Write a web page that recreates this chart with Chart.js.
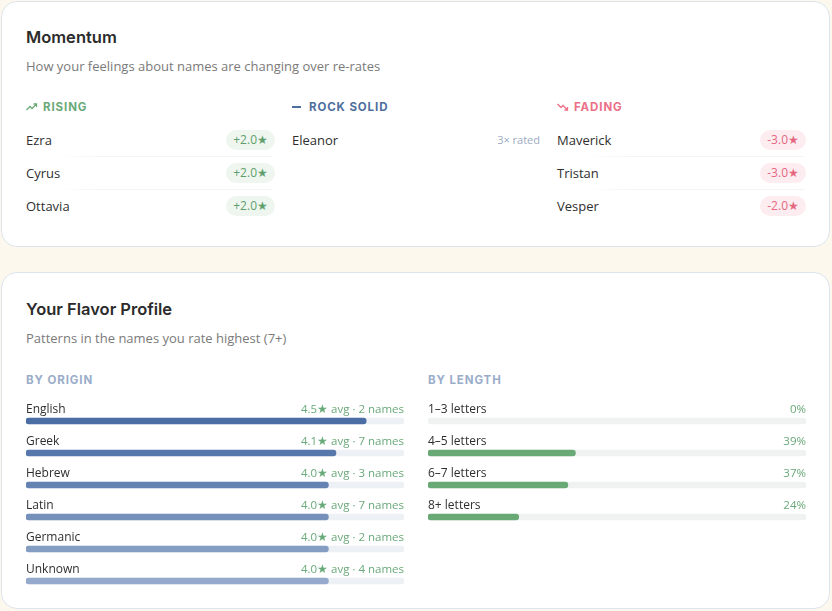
<!DOCTYPE html>
<html><head><meta charset="utf-8">
<script src="https://cdn.jsdelivr.net/npm/chart.js@4.4.1/dist/chart.umd.min.js"></script>
<style>
html,body{margin:0;padding:0;}
body{width:832px;height:611px;background:#fdf8ed;position:relative;overflow:hidden;font-family:"Open Sans",sans-serif;color:#2f2f2f;}
.card{position:absolute;left:1px;width:829px;background:#fff;border:1.5px solid #dce4ee;border-radius:16px;box-sizing:border-box;}
.t{position:absolute;white-space:nowrap;height:20px;line-height:20px;}
.title{font-family:Inter,sans-serif;font-weight:600;font-size:16.5px;color:#2b2b2b;letter-spacing:0px;}
.sub{font-size:13px;color:#7a7a7a;}
.hdr{font-family:Inter,sans-serif;font-weight:700;font-size:11.5px;letter-spacing:0.9px;}
.name{font-size:13px;color:#2f2f2f;}
.badge{position:absolute;height:20px;line-height:20px;border-radius:10px;font-size:12px;padding:0 7px;box-sizing:border-box;text-align:center;}
.div{position:absolute;height:1px;background:linear-gradient(90deg,rgba(245,245,245,0),#f4f4f4 20%,#f4f4f4);}
canvas{position:absolute;}
</style></head>
<body>
<div class="card" style="top:1px;height:246px;"></div>
<div class="card" style="top:272px;height:337px;"></div>

<div class="t title" style="left:26px;top:27px;">Momentum</div>
<div class="t sub" style="left:26px;top:56px;">How your feelings about names are changing over re-rates</div>

<div class="t hdr" style="left:26px;top:97px;color:#6aaa78;"><svg width="12" height="8" viewBox="0 0 12 8" style="margin-right:5px;vertical-align:0px"><polyline points="0.5,7 4,3.5 6,5.5 10.5,1" fill="none" stroke="#6aaa78" stroke-width="1.3"/><polyline points="7.5,1 10.5,1 10.5,4" fill="none" stroke="#6aaa78" stroke-width="1.3"/></svg>RISING</div>
<div class="t hdr" style="left:292px;top:97px;color:#4e6e9d;"><span style="display:inline-block;width:9px;height:1.6px;background:#4e6e9d;vertical-align:3px;margin-right:8px;"></span>ROCK SOLID</div>
<div class="t hdr" style="left:557px;top:97px;color:#ec7088;"><svg width="12" height="8" viewBox="0 0 12 8" style="margin-right:5px;vertical-align:0px"><polyline points="0.5,1 4,4.5 6,2.5 10.5,7" fill="none" stroke="#ec7088" stroke-width="1.3"/><polyline points="7.5,7 10.5,7 10.5,4" fill="none" stroke="#ec7088" stroke-width="1.3"/></svg>FADING</div>

<div id="mom"></div>

<div class="t title" style="left:26px;top:299px;">Your Flavor Profile</div>
<div class="t sub" style="left:26px;top:328px;">Patterns in the names you rate highest (7+)</div>
<div class="t hdr" style="left:26px;top:370px;color:#9aadc9;">BY ORIGIN</div>
<div class="t hdr" style="left:428px;top:370px;color:#9aadc9;">BY LENGTH</div>

<canvas id="origin" width="378" height="202" style="left:26px;top:395px;"></canvas>
<canvas id="length" width="378" height="138" style="left:428px;top:395px;"></canvas>

<script>
// ---- Momentum data ----
const risingNames = ['Ezra', 'Cyrus', 'Ottavia'];
const risingDelta = [2.0, 2.0, 2.0];
const solidNames = ['Eleanor'];
const solidRated = [3];
const fadingNames = ['Maverick', 'Tristan', 'Vesper'];
const fadingDelta = [-3.0, -3.0, -2.0];

// ---- Flavor profile data ----
const originLabels = ['English', 'Greek', 'Hebrew', 'Latin', 'Germanic', 'Unknown'];
const originAvg = [4.5, 4.1, 4.0, 4.0, 4.0, 4.0];
const originCount = [2, 7, 3, 7, 2, 4];
const originMax = 5;
const lengthLabels = ['1–3 letters', '4–5 letters', '6–7 letters', '8+ letters'];
const lengthPct = [0, 39, 37, 24];
const lengthMax = 100;

// ---- build momentum rows ----
const mom = document.getElementById('mom');
const rowY = [140, 173, 206];
function addRow(x, right, y, name, i, n) {
  const d = document.createElement('div');
  d.className = 't name'; d.style.left = x + 'px'; d.style.top = (y - 10) + 'px';
  d.textContent = name; mom.appendChild(d);
  if (i < n - 1) {
    const l = document.createElement('div');
    l.className = 'div'; l.style.left = (x + 30) + 'px'; l.style.width = (right - x - 32) + 'px';
    l.style.top = (y + 16) + 'px'; mom.appendChild(l);
  }
}
function addBadge(right, y, txt, fg, bg) {
  const b = document.createElement('div');
  b.className = 'badge'; b.style.right = (832 - right) + 'px'; b.style.top = (y - 10) + 'px';
  b.style.color = fg; b.style.background = bg; b.textContent = txt; mom.appendChild(b);
}
risingNames.forEach((n, i) => {
  addRow(26, 274, rowY[i], n, i, risingNames.length);
  addBadge(275, rowY[i], '+' + risingDelta[i].toFixed(1) + '★', '#5f9f6d', '#eef6ef');
});
solidNames.forEach((n, i) => {
  addRow(292, 540, rowY[i], n, i, solidNames.length);
  const r = document.createElement('div');
  r.className = 't'; r.style.right = (832 - 540) + 'px'; r.style.top = (rowY[i] - 10) + 'px';
  r.style.fontSize = '11px'; r.style.color = '#9dabc4'; r.textContent = solidRated[i] + '× rated';
  mom.appendChild(r);
});
fadingNames.forEach((n, i) => {
  addRow(557, 806, rowY[i], n, i, fadingNames.length);
  addBadge(806, rowY[i], fadingDelta[i].toFixed(1) + '★', '#e5677f', '#fdedf0');
});

// ---- bar charts ----
const rowLabels = {
  id: 'rowLabels',
  afterDatasetsDraw(chart, args, opts) {
    const ctx = chart.ctx, ys = chart.scales.y, ca = chart.chartArea;
    ctx.save();
    ctx.textBaseline = 'middle';
    chart.data.labels.forEach((lab, i) => {
      const y = ys.getPixelForValue(i) - 11;
      ctx.font = '12px "Open Sans", sans-serif';
      ctx.fillStyle = '#2f2f2f'; ctx.textAlign = 'left';
      ctx.fillText(lab, ca.left, y);
      ctx.font = '11.5px "Open Sans", sans-serif';
      ctx.fillStyle = '#6aa97a'; ctx.textAlign = 'right';
      ctx.fillText(opts.right[i], ca.right, y);
    });
    ctx.restore();
  }
};

function barChart(id, labels, values, max, colors, track, rightTexts) {
  new Chart(document.getElementById(id), {
    type: 'bar',
    data: {
      labels: labels,
      datasets: [
        { data: values,
          backgroundColor: c => (c.raw === 0 ? 'rgba(0,0,0,0)' : colors[c.dataIndex]),
          barThickness: 6, borderRadius: 3, borderSkipped: false, grouped: false },
        { data: labels.map(() => max), backgroundColor: track, barThickness: 6, borderRadius: 3, borderSkipped: false, grouped: false }
      ]
    },
    options: {
      indexAxis: 'y', responsive: false, animation: false, devicePixelRatio: 1,
      layout: { padding: { top: 10, left: 0, right: 0, bottom: 0 } },
      scales: {
        x: { display: false, min: 0, max: max },
        y: { display: false }
      },
      plugins: { legend: { display: false }, tooltip: { enabled: false }, rowLabels: { right: rightTexts } }
    },
    plugins: [rowLabels]
  });
}

barChart('origin', originLabels, originAvg, originMax,
  ['#4a6ea4', '#5677ab', '#6483b3', '#7490bb', '#849dc3', '#94a9cb'], '#edf0f5',
  originAvg.map((v, i) => v.toFixed(1) + '★ avg · ' + originCount[i] + ' names'));
barChart('length', lengthLabels, lengthPct, lengthMax,
  lengthLabels.map(() => '#69a975'), '#f0f2f2',
  lengthPct.map(v => v + '%'));
</script>
</body></html>
